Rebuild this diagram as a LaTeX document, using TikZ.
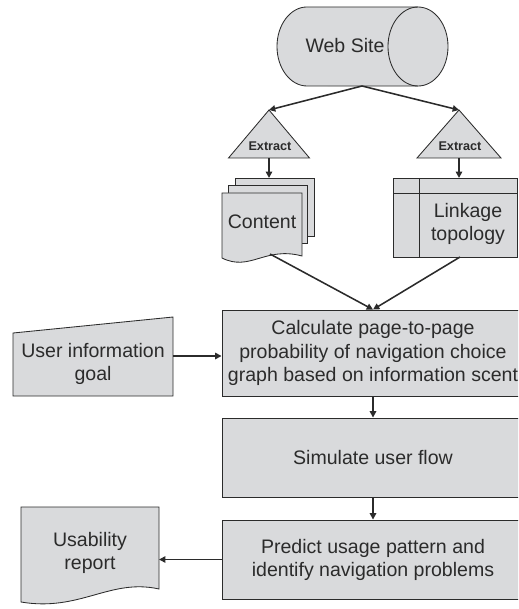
\documentclass[tikz,border=0pt]{standalone}
\usepackage{fontspec}
\setmainfont{Liberation Sans}
\usetikzlibrary{arrows.meta}

\definecolor{boxgray}{HTML}{D9DADC}
\definecolor{inkgray}{HTML}{2B2B2B}

\tikzset{
  shp/.style={draw=inkgray,fill=boxgray,line width=0.6pt},
  flow/.style={draw=inkgray,line width=1.1pt,-{Triangle[length=4.5pt,width=4.5pt]}},
  procbox/.style={shp,rectangle,minimum width=7.55cm,minimum height=1.975cm,align=center,inner sep=0,text=inkgray},
  lbl/.style={align=center,inner sep=0,text=inkgray},
  endcap/.style={x radius=0.75cm,y radius=0.9875cm}
}

\begin{document}
\begin{tikzpicture}[x=0.025cm,y=-0.025cm,font=\fontsize{13.9pt}{16.4pt}\selectfont]
\clip (0,0) rectangle (518,609);

% web site store
\draw [shp] (307,7) -- (418,7) arc [endcap,start angle=90,end angle=-90]
  -- (307,86) arc [endcap,start angle=270,end angle=90] -- cycle;
\draw [draw=inkgray,line width=0.6pt] (418,7) arc [endcap,start angle=90,end angle=270];
\node [lbl] (site) at (345,46) {Web Site};
\coordinate (siteOut) at (362,86);

% extract steps
\coordinate (apexL) at (269,110);
\coordinate (apexR) at (459,110);
\draw [shp] (apexL) -- ++(-40.5,48) -- ++(81,0) -- cycle;
\draw [shp] (apexR) -- ++(-42,48) -- ++(84,0) -- cycle;
\node [lbl,font=\bfseries\fontsize{9pt}{10pt}\selectfont] (extL) at (270,146) {Extract};
\node [lbl,font=\bfseries\fontsize{9pt}{10pt}\selectfont] (extR) at (460,146) {Extract};
\coordinate (baseL) at (269,158);
\coordinate (baseR) at (459,158);

% content pages
\draw [shp] (235,178) rectangle (314,236);
\draw [shp] (228,185) rectangle (307,243);
\draw [shp] (222,193) -- (302,193) -- (302,256) .. controls (265,246) and (250,272) .. (222,258) -- cycle;
\node [lbl] (content) at (262,222) {Content};
\coordinate (contentTop) at (269,178);
\coordinate (contentOut) at (270,254);

% linkage store
\draw [shp] (393,178) rectangle (517,257);
\draw [draw=inkgray,line width=0.6pt] (419,178) -- (419,257) (393,193) -- (517,193);
\node [lbl] (link) at (468,224) {Linkage\\topology};
\coordinate (linkTop) at (459,178);
\coordinate (linkOut) at (460,257);

% main steps
\node [procbox,minimum height=2.15cm] (calc) at (373,353) {Calculate page-to-page\\probability of navigation choice\\graph based on information scent};
\node [procbox] (sim) at (373,457.5) {Simulate user flow};
\node [procbox] (pred) at (373,559.5) {Predict usage pattern and\\identify navigation problems};

% goal input
\draw [shp] (13,333) -- (173,317) -- (173,396) -- (13,396) -- cycle;
\node [lbl] (goal) at (93,364) {User information\\goal};
\coordinate (goalOut) at (173,356);

% report
\draw [shp] (21,507) -- (159,507) -- (159,589) .. controls (110,578) and (80,612) .. (21,602) -- cycle;
\node [lbl] (report) at (90,553) {Usability\\report};
\coordinate (reportIn) at (159,559.5);

% arrows
\draw [flow] (siteOut) -- (apexL);
\draw [flow] (siteOut) -- (apexR);
\draw [flow] (baseL) -- (contentTop);
\draw [flow] (baseR) -- (linkTop);
\draw [flow] (contentOut) -- (calc.north);
\draw [flow] (linkOut) -- (calc.north);
\draw [flow] (goalOut) -- (goalOut -| calc.west);
\draw [flow] (calc) -- (sim);
\draw [flow] (sim) -- (pred);
\draw [flow] (pred.west) -- (reportIn);
\end{tikzpicture}
\end{document}
